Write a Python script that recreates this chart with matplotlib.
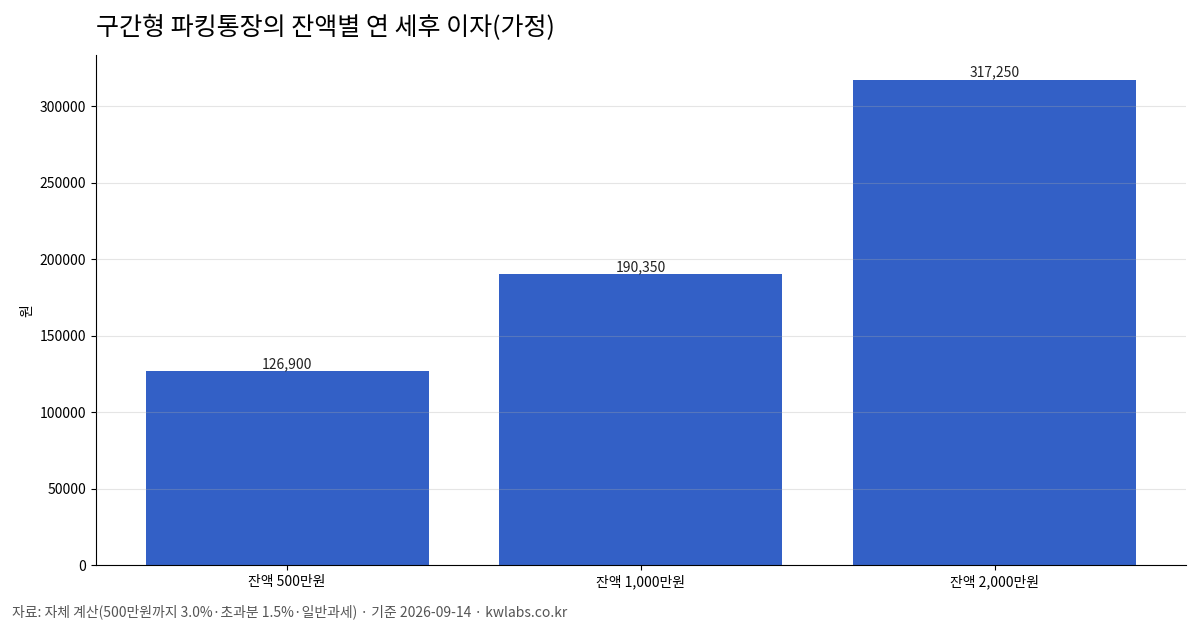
import matplotlib
matplotlib.use("Agg")
import matplotlib.pyplot as plt

plt.rcParams['font.family'] = ['Noto Sans CJK KR', 'DejaVu Sans']

categories = ['잔액 500만원', '잔액 1,000만원', '잔액 2,000만원']
interest = [126900, 190350, 317250]

fig, ax = plt.subplots(figsize=(12, 6.3), dpi=100)
fig.subplots_adjust(left=0.08, right=0.988, top=0.912, bottom=0.103)

bars = ax.bar(categories, interest, width=0.8, color='#3360C6')
for b, v in zip(bars, interest):
    ax.text(b.get_x() + b.get_width() / 2, v, f'{v:,}', ha='center', va='bottom', fontsize=10, color='#222222')

# grid sits on top of the bars, faint
ax.grid(axis='y', color='#aaaaaa', linewidth=0.8, alpha=0.3)
ax.set_axisbelow(False)
ax.spines['top'].set_visible(False)
ax.spines['right'].set_visible(False)
ax.tick_params(labelsize=10)
ax.set_ylabel('원', fontsize=10)

fig.text(0.08, 0.955, '구간형 파킹통장의 잔액별 연 세후 이자(가정)', fontsize=18, ha='left', va='center')
fig.text(0.01, 0.017, '자료: 자체 계산(500만원까지 3.0%·초과분 1.5%·일반과세) · 기준 2026-09-14 · kwlabs.co.kr',
         fontsize=10, color='#555555', ha='left', va='bottom')

fig.savefig('out.png')
